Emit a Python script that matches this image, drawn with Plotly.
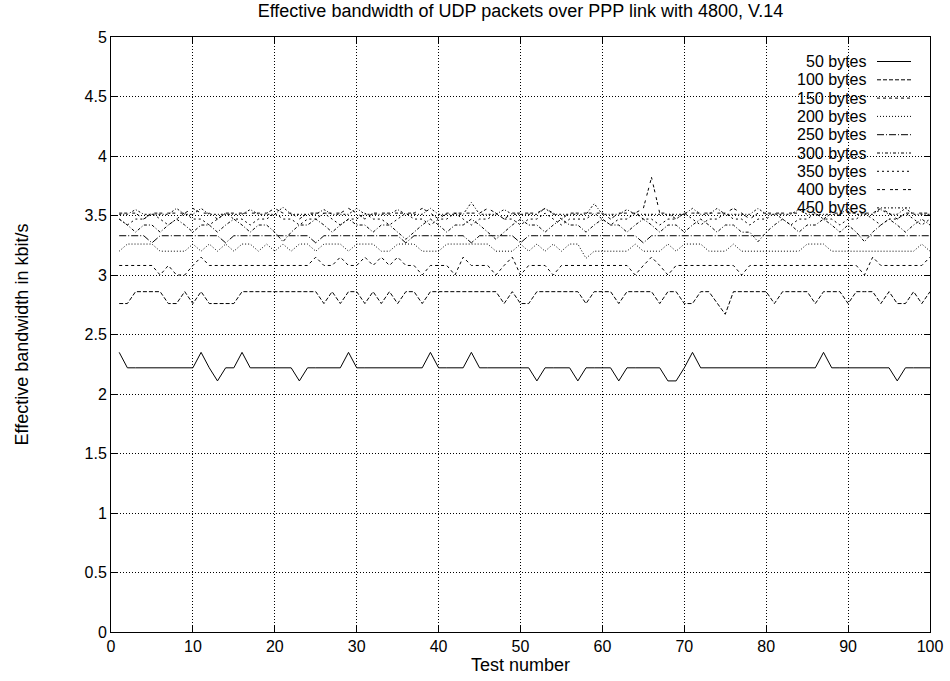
import plotly.graph_objects as go

test_number = list(range(1, 101))

names = ["50 bytes", "100 bytes", "150 bytes", "200 bytes", "250 bytes",
         "300 bytes", "350 bytes", "400 bytes", "450 bytes"]

s50 = [2.35,2.22,2.22,2.22,2.22,2.22,2.22,2.22,2.22,2.22,
       2.35,2.22,2.11,2.22,2.22,2.35,2.22,2.22,2.22,2.22,
       2.22,2.22,2.11,2.22,2.22,2.22,2.22,2.22,2.35,2.22,
       2.22,2.22,2.22,2.22,2.22,2.22,2.22,2.22,2.35,2.22,
       2.22,2.22,2.22,2.35,2.22,2.22,2.22,2.22,2.22,2.22,
       2.22,2.11,2.22,2.22,2.22,2.22,2.11,2.22,2.22,2.22,
       2.22,2.11,2.22,2.22,2.22,2.22,2.22,2.11,2.11,2.22,
       2.35,2.22,2.22,2.22,2.22,2.22,2.22,2.22,2.22,2.22,
       2.22,2.22,2.22,2.22,2.22,2.22,2.35,2.22,2.22,2.22,
       2.22,2.22,2.22,2.22,2.22,2.11,2.22,2.22,2.22,2.22]

s100 = [2.76,2.76,2.86,2.86,2.86,2.86,2.76,2.76,2.86,2.76,
        2.86,2.76,2.76,2.76,2.76,2.86,2.86,2.86,2.86,2.86,
        2.86,2.86,2.86,2.86,2.86,2.76,2.86,2.76,2.86,2.86,
        2.76,2.86,2.76,2.86,2.76,2.86,2.86,2.76,2.86,2.86,
        2.86,2.86,2.86,2.86,2.86,2.86,2.86,2.76,2.86,2.76,
        2.76,2.86,2.86,2.86,2.86,2.86,2.86,2.76,2.86,2.86,
        2.86,2.76,2.86,2.86,2.86,2.86,2.76,2.86,2.86,2.76,
        2.76,2.86,2.86,2.76,2.67,2.86,2.86,2.86,2.86,2.86,
        2.76,2.86,2.86,2.86,2.86,2.76,2.86,2.86,2.86,2.76,
        2.86,2.86,2.86,2.76,2.86,2.76,2.76,2.86,2.76,2.86]

s150 = [3.08,3.08,3.08,3.08,3.08,3.00,3.08,3.00,3.00,3.08,
        3.15,3.08,3.08,3.08,3.08,3.08,3.08,3.08,3.08,3.08,
        3.08,3.08,3.08,3.08,3.15,3.08,3.08,3.15,3.08,3.08,
        3.15,3.08,3.15,3.08,3.15,3.08,3.08,3.00,3.08,3.08,
        3.08,3.00,3.15,3.08,3.08,3.08,3.00,3.08,3.15,3.00,
        3.08,3.08,3.08,3.00,3.08,3.08,3.08,3.08,3.08,3.08,
        3.08,3.08,3.08,3.00,3.08,3.15,3.08,3.00,3.08,3.08,
        3.08,3.08,3.08,3.08,3.08,3.08,3.00,3.08,3.08,3.08,
        3.08,3.08,3.08,3.08,3.08,3.08,3.08,3.08,3.08,3.08,
        3.08,3.00,3.15,3.08,3.08,3.08,3.08,3.08,3.08,3.15]

s200 = [3.20,3.26,3.26,3.26,3.26,3.20,3.20,3.20,3.20,3.26,
        3.20,3.26,3.20,3.26,3.20,3.26,3.26,3.20,3.26,3.20,
        3.26,3.20,3.26,3.26,3.20,3.26,3.26,3.26,3.20,3.26,
        3.26,3.26,3.20,3.20,3.26,3.26,3.26,3.20,3.20,3.20,
        3.26,3.26,3.26,3.26,3.26,3.26,3.20,3.20,3.20,3.26,
        3.20,3.26,3.20,3.26,3.20,3.26,3.26,3.14,3.20,3.20,
        3.20,3.20,3.20,3.26,3.20,3.20,3.20,3.26,3.20,3.26,
        3.26,3.26,3.20,3.20,3.20,3.26,3.20,3.20,3.20,3.20,
        3.20,3.20,3.20,3.20,3.26,3.26,3.26,3.20,3.20,3.20,
        3.20,3.20,3.20,3.20,3.20,3.20,3.20,3.20,3.26,3.20]

s250 = [3.33,3.33,3.33,3.33,3.27,3.33,3.33,3.33,3.33,3.33,
        3.33,3.33,3.33,3.27,3.33,3.33,3.33,3.33,3.33,3.33,
        3.33,3.33,3.33,3.33,3.27,3.33,3.33,3.33,3.33,3.33,
        3.33,3.33,3.33,3.33,3.33,3.27,3.33,3.33,3.33,3.33,
        3.33,3.33,3.33,3.27,3.33,3.33,3.33,3.33,3.33,3.27,
        3.33,3.33,3.33,3.33,3.33,3.33,3.33,3.33,3.33,3.33,
        3.33,3.33,3.33,3.33,3.27,3.33,3.33,3.33,3.33,3.33,
        3.33,3.33,3.33,3.33,3.33,3.33,3.33,3.33,3.33,3.33,
        3.33,3.33,3.33,3.33,3.33,3.33,3.33,3.33,3.33,3.33,
        3.33,3.33,3.33,3.33,3.33,3.33,3.33,3.33,3.33,3.33]

s300 = [3.47,3.42,3.36,3.42,3.42,3.36,3.42,3.47,3.42,3.36,
        3.42,3.42,3.36,3.42,3.47,3.42,3.36,3.42,3.42,3.36,
        3.28,3.36,3.42,3.42,3.47,3.42,3.36,3.42,3.47,3.42,
        3.42,3.36,3.42,3.42,3.36,3.30,3.36,3.42,3.47,3.42,
        3.36,3.42,3.42,3.47,3.42,3.36,3.30,3.36,3.42,3.47,
        3.42,3.42,3.36,3.42,3.47,3.42,3.42,3.36,3.42,3.47,
        3.42,3.42,3.36,3.42,3.47,3.42,3.36,3.42,3.42,3.36,
        3.42,3.47,3.42,3.36,3.42,3.42,3.36,3.36,3.28,3.36,
        3.42,3.47,3.42,3.36,3.42,3.42,3.47,3.42,3.36,3.42,
        3.36,3.28,3.36,3.42,3.47,3.42,3.36,3.42,3.47,3.42]

s350 = [3.47,3.42,3.47,3.47,3.52,3.47,3.42,3.47,3.52,3.47,
        3.47,3.42,3.47,3.52,3.47,3.47,3.42,3.47,3.47,3.52,
        3.47,3.47,3.42,3.47,3.47,3.52,3.47,3.42,3.47,3.47,
        3.52,3.47,3.47,3.42,3.47,3.52,3.47,3.47,3.42,3.47,
        3.47,3.52,3.47,3.42,3.47,3.47,3.52,3.47,3.47,3.42,
        3.47,3.47,3.52,3.47,3.42,3.47,3.47,3.47,3.52,3.47,
        3.42,3.47,3.47,3.52,3.47,3.47,3.42,3.47,3.47,3.52,
        3.47,3.42,3.47,3.47,3.52,3.47,3.47,3.42,3.47,3.47,
        3.52,3.47,3.42,3.47,3.47,3.52,3.47,3.47,3.42,3.47,
        3.47,3.52,3.47,3.42,3.47,3.47,3.52,3.47,3.42,3.47]

s400 = [3.52,3.52,3.52,3.47,3.52,3.52,3.52,3.52,3.52,3.56,
        3.52,3.52,3.47,3.52,3.52,3.52,3.52,3.52,3.52,3.56,
        3.52,3.52,3.47,3.52,3.52,3.52,3.52,3.52,3.56,3.52,
        3.47,3.52,3.52,3.52,3.52,3.52,3.52,3.56,3.52,3.47,
        3.52,3.52,3.52,3.52,3.52,3.56,3.52,3.47,3.52,3.52,
        3.52,3.52,3.56,3.52,3.47,3.52,3.52,3.52,3.52,3.52,
        3.47,3.52,3.52,3.52,3.56,3.82,3.52,3.52,3.47,3.52,
        3.52,3.52,3.52,3.52,3.52,3.56,3.52,3.47,3.52,3.52,
        3.52,3.52,3.52,3.52,3.56,3.52,3.47,3.52,3.52,3.52,
        3.52,3.52,3.52,3.56,3.52,3.47,3.52,3.52,3.52,3.52]

s450 = [3.51,3.51,3.55,3.51,3.51,3.51,3.51,3.56,3.51,3.51,
        3.56,3.51,3.51,3.51,3.51,3.51,3.55,3.51,3.51,3.51,
        3.57,3.51,3.51,3.51,3.51,3.55,3.51,3.51,3.51,3.56,
        3.51,3.51,3.51,3.51,3.55,3.51,3.51,3.51,3.56,3.51,
        3.51,3.51,3.51,3.61,3.51,3.51,3.51,3.55,3.51,3.51,
        3.51,3.51,3.56,3.51,3.51,3.51,3.51,3.51,3.60,3.51,
        3.51,3.51,3.55,3.51,3.51,3.51,3.51,3.51,3.51,3.51,
        3.56,3.51,3.51,3.56,3.51,3.51,3.51,3.51,3.56,3.51,
        3.51,3.51,3.51,3.55,3.51,3.51,3.51,3.51,3.51,3.56,
        3.51,3.51,3.51,3.55,3.51,3.51,3.56,3.51,3.51,3.51]

series = [s50, s100, s150, s200, s250, s300, s350, s400, s450]
dashes = ["solid", "4px,2px", "3px,3px", "1px,2px", "7px,2px,1px,2px",
          "3px,2px,1px,2px", "2px,3px", "3px,2px,3px,5px", "2px,2px,1px,2px"]

x_ticks = [0, 10, 20, 30, 40, 50, 60, 70, 80, 90, 100]
y_ticks = [0, 0.5, 1, 1.5, 2, 2.5, 3, 3.5, 4, 4.5, 5]
y_tick_text = ["0", "0.5", "1", "1.5", "2", "2.5", "3", "3.5", "4", "4.5", "5"]

FONT = "Liberation Sans, Arial, Helvetica, sans-serif"
FS = 16
FS_TEXT = 18
FS_KEY = 16

fig = go.Figure()
for name, ys, dash in zip(names, series, dashes):
    fig.add_trace(go.Scatter(x=test_number, y=ys, mode="lines", name=name,
                             line=dict(color="black", width=1, dash=dash),
                             showlegend=False))

# gnuplot-style key: label right-aligned, sample line to its right
key_top_px = 61.5
key_step_px = 18.3
plot_top, plot_h, plot_l, plot_w = 37, 595, 111, 819
def px_x(p):
    return (p - plot_l) / plot_w
for i, (name, dash) in enumerate(zip(names, dashes)):
    yp = 1 - (key_top_px + i * key_step_px - plot_top) / plot_h
    fig.add_annotation(x=px_x(866), y=yp, xref="paper", yref="paper", text=name,
                       showarrow=False, xanchor="right", yanchor="middle",
                       borderpad=0, borderwidth=0,
                       font=dict(family=FONT, size=FS_KEY, color="black"))
    fig.add_shape(type="line", xref="paper", yref="paper", x0=px_x(877), x1=px_x(911),
                  y0=yp, y1=yp, line=dict(color="black", width=1, dash=dash))

axis_common = dict(showline=True, linecolor="black", linewidth=1, mirror="ticks",
                   ticks="inside", ticklen=6, tickcolor="black", automargin=False,
                   showgrid=True, gridcolor="black", gridwidth=1, griddash="1px,2px",
                   zeroline=False, tickfont=dict(family=FONT, size=FS, color="black"))

fig.update_layout(
    width=950, height=681,
    margin=dict(l=111, r=20, t=37, b=49, autoexpand=False),
    paper_bgcolor="white", plot_bgcolor="white",
    font=dict(family=FONT, size=FS, color="black"),
    title=dict(text="Effective bandwidth of UDP packets over PPP link with 4800, V.14",
               x=0.5, xref="paper", y=1 - 11 / 681, yref="container",
               xanchor="center", yanchor="middle",
               font=dict(family=FONT, size=FS_TEXT, color="black")),
    xaxis=dict(range=[0, 100], tickvals=x_ticks,
               title=dict(text="Test number", standoff=0,
                          font=dict(family=FONT, size=FS_TEXT, color="black")),
               **axis_common),
    yaxis=dict(range=[0, 5], tickvals=y_ticks, ticktext=y_tick_text,
               title=dict(text="Effective bandwidth in kbit/s", standoff=51,
                          font=dict(family=FONT, size=FS_TEXT, color="black")),
               **axis_common),
)

fig.write_html("out.html")
